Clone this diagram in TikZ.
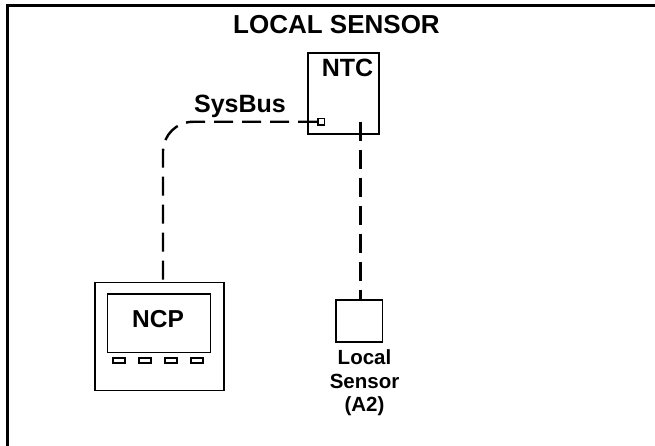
\documentclass[tikz,border=0pt]{standalone}
\usepackage{fontspec}
\setmainfont{Liberation Sans}
\begin{document}
\begin{tikzpicture}[x=1pt,y=-1pt,
  lbl/.style={inner sep=0pt, font=\bfseries},
  wire/.style={line width=2.4pt, dash pattern=on 19pt off 9pt},
  box/.style={draw, line width=2pt},
  thinbox/.style={draw, line width=1.3pt}]
\useasboundingbox (0,0) rectangle (655,446);
% frame (left and top edges visible)
\draw[line width=3.5pt] (7.7,460) -- (7.7,5.3) -- (670,5.3);
% title
\node[lbl, anchor=base, font=\fontsize{26}{28}\selectfont\bfseries] (title) at (336.5,34) {LOCAL SENSOR};
% NTC
\node[box, minimum width=71.3pt, minimum height=81pt, anchor=north west, inner sep=0pt] (ntc) at (306.7,51.7) {};
\node[lbl, anchor=base, font=\fontsize{25}{27}\selectfont\bfseries] (ntclabel) at (347.5,77) {NTC};
\node[thinbox, line width=1.5pt, minimum size=6.5pt, inner sep=0pt] (port) at (321,121.8) {};
\coordinate (ntcdrop) at (360.5,122);
% SysBus label
\node[lbl, anchor=base, font=\fontsize{25}{27}\selectfont\bfseries] (sysbus) at (240,113) {SysBus};
% NCP
\node[thinbox, minimum width=129pt, minimum height=108pt, anchor=north west, inner sep=0pt] (ncp) at (94.3,281.7) {};
\node[thinbox, minimum width=103.3pt, minimum height=58.4pt, anchor=north west, inner sep=0pt] (screen) at (106.7,293.3) {};
\node[lbl, anchor=base, font=\fontsize{24.5}{26}\selectfont\bfseries] (ncplabel) at (158,327) {NCP};
\foreach \i/\x in {1/119,2/145,3/171,4/197}{
  \node[thinbox, minimum width=12pt, minimum height=5pt, inner sep=0pt] (btn\i) at (\x,360.5) {};
}
\coordinate (ncptop) at (163,281.7);
% Local sensor
\node[box, line width=1.6pt, minimum width=46.7pt, minimum height=42pt, anchor=north west, inner sep=0pt] (sensor) at (335,299) {};
\node[lbl, anchor=north, align=center, font=\fontsize{20.5}{23.5}\selectfont\bfseries] (sensorlabel) at (364.5,349.5) {Local\\Sensor\\(A2)};
% wires
\draw[wire, rounded corners=30pt] (port.west) -- (163,121.8) -- (ncptop);
\draw[wire] (ntcdrop) -- (ntcdrop |- sensor.north);
\end{tikzpicture}
\end{document}
